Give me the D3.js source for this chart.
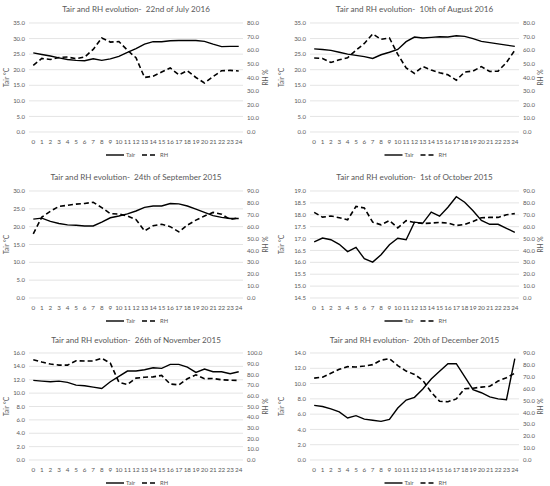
<!DOCTYPE html>
<html>
<head>
  <meta charset="utf-8">
  <title>Tair and RH evolution</title>
  <style>
    body { margin: 0; background: #fff; }
    text { font-family: Lato, "Noto Sans", sans-serif; fill: #595959; white-space: pre; }
    .grid line { stroke: #d9d9d9; stroke-width: 0.7; }
    .tair { fill: none; stroke: #000; stroke-width: 1.4; }
    .rh { fill: none; stroke: #000; stroke-width: 1.6; stroke-dasharray: 5,3; }
  </style>
</head>
<body>
  <svg width="550" height="486"></svg>
  <script src="https://cdn.jsdelivr.net/npm/d3@7"></script>
  <script>
    // hours on the category axis
    var hours = d3.range(0, 25);

    var titles = [
      "Tair and RH evolution-  22nd of July 2016",
      "Tair and RH evolution-  10th of August 2016",
      "Tair and RH evolution-  24th of September 2015",
      "Tair and RH evolution-  1st of October 2015",
      "Tair and RH evolution-  26th of November 2015",
      "Tair and RH evolution-  20th of December 2015"
    ];

    var tairJul = [25.4, 24.9, 24.4, 23.8, 23.3, 23.0, 22.9, 23.5, 23.0, 23.5, 24.3, 25.6, 26.8, 28.2, 29.0, 29.0, 29.3, 29.4, 29.4, 29.4, 29.1, 28.2, 27.4, 27.5, 27.5];
    var rhJul = [48.9, 54.0, 53.2, 54.7, 55.0, 53.8, 55.0, 60.6, 69.0, 66.0, 66.4, 60.0, 54.5, 40.0, 41.0, 44.0, 47.0, 42.0, 45.0, 40.0, 36.0, 40.6, 45.0, 45.2, 44.8];

    var tairAug = [26.7, 26.5, 26.2, 25.6, 25.0, 24.6, 24.2, 23.6, 24.8, 25.6, 26.5, 29.0, 30.5, 30.2, 30.4, 30.6, 30.5, 30.9, 30.7, 30.0, 29.1, 28.7, 28.3, 27.9, 27.5];
    var rhAug = [54.3, 54.0, 51.0, 53.0, 54.5, 60.0, 65.0, 72.0, 68.0, 69.0, 57.0, 47.0, 43.0, 48.0, 45.5, 43.5, 42.0, 38.0, 44.0, 44.7, 48.0, 44.4, 44.7, 51.0, 60.0];

    var tairSep = [22.1, 22.4, 21.5, 20.9, 20.5, 20.4, 20.2, 20.2, 21.3, 22.5, 23.0, 23.6, 24.4, 25.4, 25.8, 25.8, 26.5, 26.4, 25.8, 24.9, 24.0, 23.1, 22.6, 22.3, 22.3];
    var rhSep = [54.0, 68.0, 73.0, 77.0, 78.0, 79.0, 79.5, 80.5, 76.0, 71.0, 70.6, 69.0, 66.0, 56.5, 60.7, 62.0, 60.0, 55.6, 61.3, 65.5, 69.0, 72.0, 70.5, 66.0, 67.5];

    var tairOct = [16.86, 17.02, 16.95, 16.76, 16.45, 16.63, 16.15, 16.01, 16.32, 16.74, 17.01, 16.95, 17.69, 17.65, 18.11, 17.94, 18.32, 18.76, 18.53, 18.17, 17.76, 17.60, 17.60, 17.43, 17.26];
    var rhOct = [72.0, 68.0, 69.0, 67.5, 65.8, 77.0, 75.7, 63.8, 61.6, 65.2, 59.0, 65.0, 63.5, 62.7, 63.0, 63.5, 63.0, 61.0, 61.9, 64.4, 67.5, 67.8, 67.8, 70.0, 71.0];

    var tairNov = [11.9, 11.8, 11.7, 11.8, 11.6, 11.2, 11.1, 10.9, 10.7, 11.7, 12.5, 13.3, 13.3, 13.5, 13.8, 13.7, 14.3, 14.3, 13.9, 13.1, 13.6, 13.2, 13.2, 12.9, 13.2];
    var rhNov = [93.7, 91.5, 89.7, 88.7, 88.7, 92.8, 92.5, 92.5, 95.0, 90.6, 72.7, 70.5, 76.5, 77.4, 77.7, 79.0, 71.0, 70.2, 75.9, 79.6, 75.9, 76.2, 75.0, 74.6, 74.3];

    var tairDec = [7.15, 7.0, 6.7, 6.3, 5.5, 5.8, 5.35, 5.2, 5.05, 5.3, 6.8, 7.85, 8.2, 9.3, 10.6, 11.6, 12.6, 12.6, 10.9, 9.2, 8.8, 8.25, 8.0, 7.9, 13.25];
    var rhDec = [68.9, 69.7, 73.0, 76.3, 78.5, 78.2, 79.0, 80.2, 84.0, 85.3, 79.4, 74.8, 72.0, 67.0, 57.0, 49.4, 49.0, 51.4, 60.0, 60.4, 61.3, 62.0, 66.4, 69.2, 73.0];

    // axis ranges [min, max, step] for Tair (left) and RH (right)
    var tairAxes = [[0, 35, 5], [0, 35, 5], [0, 30, 5], [14.5, 19, 0.5], [0, 16, 2], [0, 14, 2]];
    var rhAxes = [[0, 80, 10], [0, 80, 10], [0, 90, 10], [0, 90, 10], [0, 100, 10], [0, 90, 10]];

    var tairSeries = [tairJul, tairAug, tairSep, tairOct, tairNov, tairDec];
    var rhSeries = [rhJul, rhAug, rhSep, rhOct, rhNov, rhDec];

    var svg = d3.select("svg");

    // panel layout
    var cols = [{ left: 29, right: 243, ox: 0 }, { left: 310, right: 519, ox: 275 }];
    var rows = [{ title: 12, top: 23, bottom: 132 }, { title: 180, top: 191, bottom: 298 }, { title: 343, top: 353, bottom: 460 }];

    titles.forEach(function(title, i) {
      var c = cols[i % 2], r = rows[Math.floor(i / 2)];
      var ta = tairAxes[i], ra = rhAxes[i];
      var g = svg.append("g");

      var x = d3.scalePoint().domain(hours).range([c.left, c.right]).padding(0.5);
      var yT = d3.scaleLinear().domain([ta[0], ta[1]]).range([r.bottom, r.top]);
      var yR = d3.scaleLinear().domain([ra[0], ra[1]]).range([r.bottom, r.top]);

      var tTicks = d3.range(ta[0], ta[1] + ta[2] / 2, ta[2]);
      var rTicks = d3.range(ra[0], ra[1] + ra[2] / 2, ra[2]);

      g.append("g").attr("class", "grid")
        .selectAll("line").data(tTicks).enter().append("line")
        .attr("x1", c.left).attr("x2", c.right)
        .attr("y1", function(d) { return yT(d); })
        .attr("y2", function(d) { return yT(d); });

      // left axis labels
      g.append("g").selectAll("text").data(tTicks).enter().append("text")
        .attr("x", c.left - 4)
        .attr("y", function(d) { return yT(d); })
        .attr("dy", "0.35em")
        .attr("text-anchor", "end")
        .style("font-size", "6px")
        .text(function(d) { return d.toFixed(1); });

      // right axis labels
      g.append("g").selectAll("text").data(rTicks).enter().append("text")
        .attr("x", c.right + 4)
        .attr("y", function(d) { return yR(d); })
        .attr("dy", "0.35em")
        .style("font-size", "6px")
        .text(function(d) { return d.toFixed(1); });

      // hour labels
      g.append("g").selectAll("text").data(hours).enter().append("text")
        .attr("x", function(d) { return x(d); })
        .attr("y", r.bottom + 10)
        .attr("dy", "0.35em")
        .attr("text-anchor", "middle")
        .style("font-size", "6.3px")
        .text(function(d) { return d; });

      g.append("text")
        .attr("x", (c.left + c.right) / 2)
        .attr("y", r.title)
        .attr("text-anchor", "middle")
        .style("font-size", "8.1px")
        .text(title);

      var mid = (r.top + r.bottom) / 2;
      g.append("text")
        .attr("transform", "translate(" + (c.ox + 9) + "," + mid + ") rotate(-90)")
        .attr("text-anchor", "middle")
        .style("font-size", "6.6px")
        .text("Tair °C");
      g.append("text")
        .attr("transform", "translate(" + (c.ox + 268) + "," + mid + ") rotate(-90)")
        .attr("text-anchor", "middle")
        .style("font-size", "6.6px")
        .text("RH %");

      var lineT = d3.line().x(function(d, k) { return x(hours[k]); }).y(function(d) { return yT(d); });
      var lineR = d3.line().x(function(d, k) { return x(hours[k]); }).y(function(d) { return yR(d); });

      g.append("path").attr("class", "tair").attr("d", lineT(tairSeries[i]));
      g.append("path").attr("class", "rh").attr("d", lineR(rhSeries[i]));

      // legend
      var lx = (c.left + c.right) / 2 - 30, ly = r.bottom + 23;
      g.append("line").attr("class", "tair")
        .attr("x1", lx).attr("x2", lx + 18).attr("y1", ly).attr("y2", ly);
      g.append("text").attr("x", lx + 20).attr("y", ly).attr("dy", "0.35em")
        .style("font-size", "5.8px").text("Tair");
      g.append("line").attr("class", "rh")
        .attr("x1", lx + 36).attr("x2", lx + 52).attr("y1", ly).attr("y2", ly);
      g.append("text").attr("x", lx + 54).attr("y", ly).attr("dy", "0.35em")
        .style("font-size", "5.8px").text("RH");
    });
  </script>
</body>
</html>
